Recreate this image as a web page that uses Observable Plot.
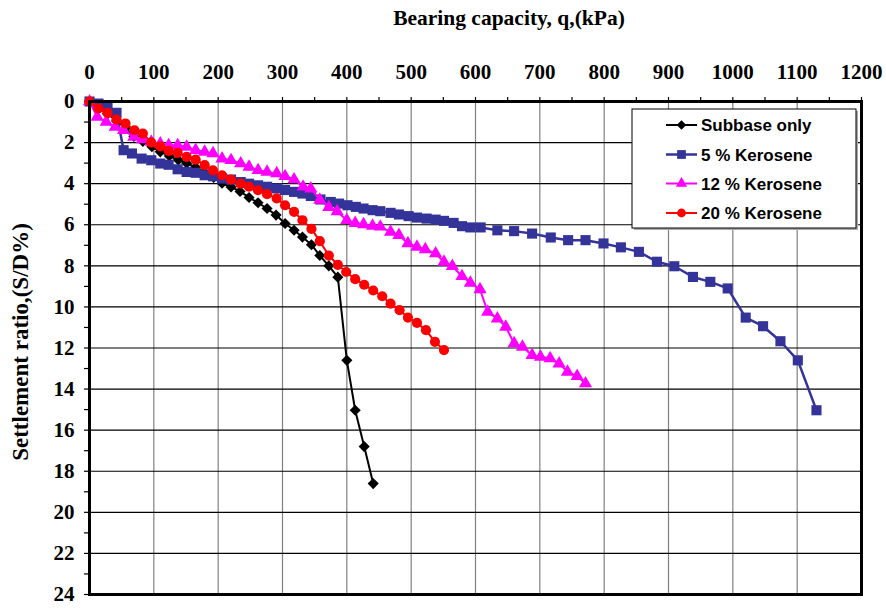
<!DOCTYPE html>
<html>
<head>
<meta charset="utf-8">
<script src="https://cdn.jsdelivr.net/npm/d3@7"></script>
<script src="https://cdn.jsdelivr.net/npm/@observablehq/plot@0.6"></script>
<style>
  html, body { margin: 0; padding: 0; background: #fff; }
  #chart { width: 886px; height: 608px; }
</style>
</head>
<body>
<div id="chart"></div>
<script>
// ---- data ----
const seriesNames = ["Subbase only", "5 % Kerosene", "12 % Kerosene", "20 % Kerosene"];

const subbaseQ = [0,14,28,42,56,69,83,97,110,124,138,151,165,179,193,206,220,234,248,262,276,290,304,318,331,345,358,372,386,400,413,427,441];
const subbaseS = [0,0.3,0.6,0.95,1.3,1.7,1.95,2.2,2.45,2.65,2.85,3.0,3.2,3.45,3.7,3.98,4.16,4.38,4.67,4.93,5.21,5.53,5.94,6.27,6.6,6.97,7.5,8.0,8.55,12.6,15.03,16.8,18.6];

const k5Q = [0,14,28,42,53,66,81,96,110,123,137,151,165,179,192,206,220,235,248,262,276,291,304,318,331,344,359,375,388,401,414,426,440,452,468,481,496,509,524,538,551,566,579,592,608,634,660,688,717,744,771,799,826,854,882,909,938,965,992,1020,1047,1074,1101,1130];
const k5S = [0,0.1,0.28,0.55,2.37,2.53,2.78,2.86,3.02,3.08,3.3,3.43,3.47,3.59,3.64,3.75,3.8,3.92,4.0,4.08,4.15,4.23,4.31,4.4,4.48,4.6,4.77,4.89,4.97,5.05,5.13,5.21,5.29,5.34,5.42,5.5,5.58,5.65,5.7,5.75,5.81,5.91,6.07,6.13,6.13,6.27,6.31,6.43,6.62,6.75,6.75,6.91,7.1,7.32,7.8,8.02,8.54,8.78,9.1,10.52,10.94,11.67,12.6,15.03];

const k12Q = [0,12,26,40,53,69,82,96,110,123,137,151,165,179,192,206,220,235,248,262,276,291,304,318,332,344,358,372,385,400,413,426,440,452,468,481,495,509,522,538,551,564,579,592,607,619,634,647,660,673,688,701,716,730,743,758,771];
const k12S = [0,0.75,0.99,1.24,1.4,1.72,1.85,1.97,2.05,2.13,2.13,2.21,2.37,2.45,2.53,2.78,2.86,3.02,3.18,3.35,3.43,3.5,3.64,3.8,4.15,4.24,4.79,5.15,5.35,5.78,5.92,5.98,6.06,6.1,6.35,6.51,6.91,7.08,7.2,7.4,7.81,8.02,8.51,8.83,9.15,10.24,10.57,10.97,11.78,11.95,12.35,12.43,12.51,12.76,13.16,13.37,13.73];

const k20Q = [0,14,28,42,56,70,83,96,110,123,137,151,165,179,192,206,220,235,248,262,276,291,304,318,331,345,358,372,386,399,413,427,441,455,468,482,495,509,523,537,551];
const k20S = [0,0.34,0.55,0.88,1.07,1.4,1.56,2.0,2.18,2.4,2.5,2.7,2.83,3.1,3.35,3.59,3.8,4.0,4.15,4.32,4.51,4.72,5.05,5.37,5.78,6.2,6.8,7.5,7.95,8.3,8.65,8.92,9.2,9.48,9.84,10.16,10.52,10.78,11.13,11.7,12.1];

const xTickLabels = [0,100,200,300,400,500,600,700,800,900,1000,1100,1200];
const yTickLabels = [0,2,4,6,8,10,12,14,16,18,20,22,24];

// ---- styles ----
const styles = [
  {color: "#000000", symbol: "diamond2", r: 5.0, sw: 2},
  {color: "#333399", symbol: "square", r: 5.7, sw: 2.5},
  {color: "#FF00FF", symbol: "triangle", r: 4.9, sw: 2},
  {color: "#FF0000", symbol: "circle", r: 5.1, sw: 2}
];
const qs = [subbaseQ, k5Q, k12Q, k20Q];
const ss = [subbaseS, k5S, k12S, k20S];
const tables = qs.map((q, i) => q.map((v, j) => ({q: v, s: ss[i][j], series: seriesNames[i]})));

const serif = "'Liberation Serif', 'Times New Roman', serif";
const sans = "'Liberation Sans', Arial, sans-serif";
const fmt = d => String(d);

const marks = [
  Plot.gridX(d3.range(100, 1200, 100), {stroke: "#808080", strokeOpacity: 1, strokeWidth: 1.2}),
  Plot.gridY(d3.range(2, 24, 2), {stroke: "#000", strokeOpacity: 1, strokeWidth: 1.2}),
  Plot.axisX({anchor: "top", ticks: d3.range(0, 1201, 50), tickSize: 5, tickFormat: () => "", strokeWidth: 1.2, label: null}),
  Plot.axisX({anchor: "top", ticks: xTickLabels, tickSize: 0, tickPadding: 23, tickFormat: fmt, fontSize: 21, fontWeight: "bold", fontFamily: serif, fill: "#000", label: null}),
  Plot.axisY({anchor: "left", ticks: d3.range(0, 25, 1), tickSize: 5, tickFormat: () => "", strokeWidth: 1.2, label: null}),
  Plot.axisY({anchor: "left", ticks: yTickLabels, tickSize: 0, tickPadding: 15, tickFormat: fmt, fontSize: 21, fontWeight: "bold", fontFamily: serif, fill: "#000", label: null}),
];
tables.forEach((t, i) => {
  const st = styles[i];
  marks.push(Plot.line(t, {x: "q", y: "s", stroke: st.color, strokeWidth: st.sw}));
  marks.push(Plot.dot(t, {x: "q", y: "s", symbol: () => st.symbol, fill: st.color, stroke: "none", r: st.r}));
});
marks.push(Plot.frame({stroke: "#000", strokeWidth: 3}));

const plot = Plot.plot({
  width: 886,
  height: 608,
  marginLeft: 89,
  marginRight: 25,
  marginTop: 101,
  marginBottom: 14,
  style: {background: "#fff", overflow: "visible"},
  x: {domain: [0, 1200], axis: null, label: null},
  y: {domain: [0, 24], reverse: true, axis: null, label: null},
  symbol: {type: "identity"},
  marks
});
document.getElementById("chart").appendChild(plot);

// ---- titles & legend ----
const svg = d3.select(plot);
svg.append("text")
  .attr("x", 509).attr("y", 25)
  .attr("text-anchor", "middle")
  .style("font-family", serif).style("font-weight", "bold").style("font-size", "21.5px")
  .text("Bearing capacity, q,(kPa)");
svg.append("text")
  .attr("transform", "translate(28,342) rotate(-90)")
  .attr("text-anchor", "middle")
  .style("font-family", serif).style("font-weight", "bold").style("font-size", "23px")
  .text("Settlement ratio,(S/D%)");

const lg = svg.append("g");
lg.append("rect").attr("x", 634).attr("y", 111).attr("width", 224).attr("height", 119).attr("fill", "#aaa");
lg.append("rect").attr("x", 632).attr("y", 109).attr("width", 224).attr("height", 119)
  .attr("fill", "#fff").attr("stroke", "#000").attr("stroke-width", 1);
const rowY = [125, 154.5, 183.5, 213];
seriesNames.forEach((name, i) => {
  const st = styles[i];
  const g = lg.append("g").attr("transform", `translate(0,${rowY[i]})`);
  g.append("line").attr("x1", 666).attr("x2", 697).attr("y1", 0).attr("y2", 0)
    .attr("stroke", st.color).attr("stroke-width", st.sw);
  const sym = {diamond2: d3.symbolDiamond2, square: d3.symbolSquare, triangle: d3.symbolTriangle, circle: d3.symbolCircle}[st.symbol];
  g.append("path").attr("transform", "translate(681.5,0)")
    .attr("d", d3.symbol(sym, Math.PI * st.r * st.r * 0.75)())
    .attr("fill", st.color);
  g.append("text").attr("x", 701).attr("y", 0).attr("dy", "0.36em")
    .attr("text-anchor", "start")
    .style("font-family", sans).style("font-weight", "bold").style("font-size", "17px")
    .text(name);
});
</script>
</body>
</html>
